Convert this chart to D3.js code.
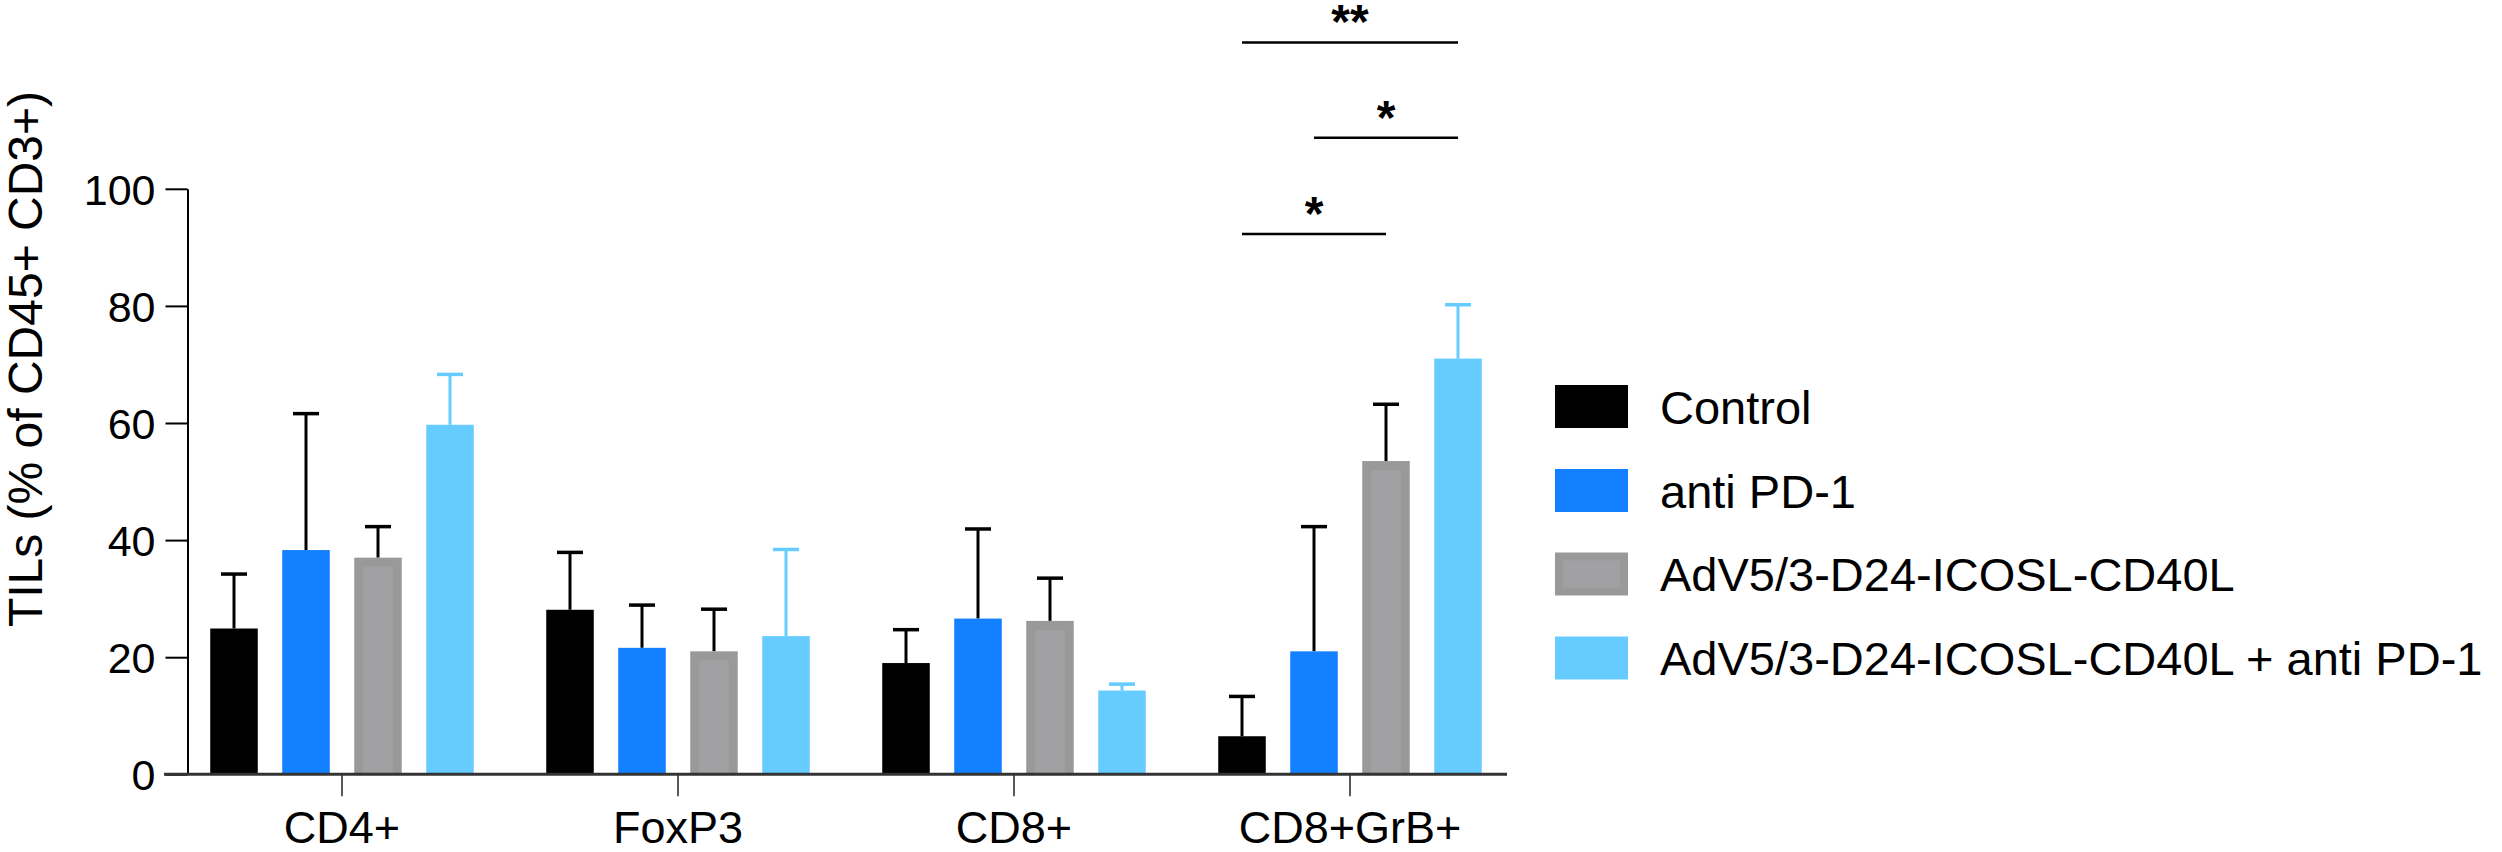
<!DOCTYPE html>
<html>
<head>
<meta charset="utf-8">
<script src="https://cdn.jsdelivr.net/npm/d3@7"></script>
<style>
  html, body { margin: 0; padding: 0; background: #ffffff; }
  svg { display: block; font-family: "Liberation Sans", Arial, Helvetica, sans-serif; }
</style>
</head>
<body>
<svg id="chart" width="2502" height="852"></svg>
<script>
// ---- data ----
const categories = ["CD4+", "FoxP3", "CD8+", "CD8+GrB+"];
const seriesNames = ["Control", "anti PD-1", "AdV5/3-D24-ICOSL-CD40L", "AdV5/3-D24-ICOSL-CD40L + anti PD-1"];
const controlMean = [24.9, 28.1, 19.0, 6.5];
const controlErr  = [9.3, 9.8, 5.7, 6.8];
const antiPD1Mean = [38.3, 21.6, 26.6, 21.0];
const antiPD1Err  = [23.3, 7.3, 15.3, 21.3];
const advMean     = [37.0, 21.0, 26.2, 53.5];
const advErr      = [5.3, 7.2, 7.3, 9.7];
const comboMean   = [59.7, 23.6, 14.3, 71.0];
const comboErr    = [8.6, 14.8, 1.1, 9.2];
const yTicks = [0, 20, 40, 60, 80, 100];
// significance brackets in CD8+GrB+ group: [from series index, to series index, label]
const sigFrom  = [0, 1, 0];
const sigTo    = [3, 3, 2];
const sigLabel = ["**", "*", "*"];
const sigLevel = [125.0, 108.7, 92.3]; // y-value (axis units) of bracket lines

const means = [controlMean, antiPD1Mean, advMean, comboMean];
const errs  = [controlErr, antiPD1Err, advErr, comboErr];
const fills = ["#000000", "#1380FF", "#999999", "#66CCFF"];
const innerFills = [null, null, "#A1A1A4", null];
const errColors = ["#000000", "#000000", "#000000", "#66CCFF"];

const svg = d3.select("#chart");

// ---- scales ----
const y = d3.scaleLinear().domain([0, 100]).range([774.3, 188.8]);
const x0 = d3.scaleBand().domain(categories).range([174, 1518]).paddingInner(0).paddingOuter(0);
const x1 = d3.scaleBand().domain(d3.range(seriesNames.length)).range([-144, 144]).paddingInner(0.34).paddingOuter(0.17);
const center = c => x0(c) + x0.bandwidth() / 2;

// ---- bars ----
const data = [];
categories.forEach((c, ci) => {
  seriesNames.forEach((s, si) => {
    data.push({ c, ci, si, v: means[si][ci], e: errs[si][ci] });
  });
});

const g = svg.append("g");

// error bars (drawn before bars so the stem starts at bar top)
const eb = g.selectAll("g.err").data(data).enter().append("g").attr("class", "err");
eb.append("line")
  .attr("x1", d => center(d.c) + x1(d.si) + x1.bandwidth() / 2)
  .attr("x2", d => center(d.c) + x1(d.si) + x1.bandwidth() / 2)
  .attr("y1", d => y(d.v))
  .attr("y2", d => y(d.v + d.e))
  .attr("stroke", d => errColors[d.si])
  .attr("stroke-width", 3);
eb.append("line")
  .attr("x1", d => center(d.c) + x1(d.si) + x1.bandwidth() / 2 - 13)
  .attr("x2", d => center(d.c) + x1(d.si) + x1.bandwidth() / 2 + 13)
  .attr("y1", d => y(d.v + d.e))
  .attr("y2", d => y(d.v + d.e))
  .attr("stroke", d => errColors[d.si])
  .attr("stroke-width", 3.5);

g.selectAll("rect.bar").data(data).enter().append("rect")
  .attr("class", "bar")
  .attr("x", d => center(d.c) + x1(d.si))
  .attr("y", d => y(d.v))
  .attr("width", x1.bandwidth())
  .attr("height", d => y(0) - y(d.v))
  .attr("fill", d => fills[d.si]);

const inset = 9;
g.selectAll("rect.inner").data(data.filter(d => innerFills[d.si])).enter().append("rect")
  .attr("class", "inner")
  .attr("x", d => center(d.c) + x1(d.si) + inset)
  .attr("y", d => y(d.v) + inset)
  .attr("width", x1.bandwidth() - 2 * inset)
  .attr("height", d => Math.max(0, y(0) - y(d.v) - inset))
  .attr("fill", d => innerFills[d.si]);

// ---- y axis ----
const yAxis = svg.append("g")
  .attr("transform", "translate(187.5,0)")
  .call(d3.axisLeft(y).tickValues(yTicks).tickSize(22).tickSizeOuter(0).tickPadding(10));
yAxis.select(".domain").attr("stroke", "#000").attr("stroke-width", 2);
yAxis.selectAll(".tick line").attr("stroke", "#000").attr("stroke-width", 2);
yAxis.selectAll(".tick text")
  .attr("font-size", 43).attr("fill", "#000")
  .attr("font-family", "'Liberation Sans', Arial, sans-serif")
  .attr("dy", "0.36em");

// ---- x axis ----
const xAxis = svg.append("g")
  .attr("transform", `translate(0,${y(0)})`)
  .call(d3.axisBottom(x0).tickSize(22).tickSizeOuter(0).tickPadding(15));
xAxis.select(".domain").remove();
xAxis.selectAll(".tick line").attr("stroke", "#222").attr("stroke-width", 1.5);
xAxis.selectAll(".tick text")
  .attr("font-size", 45).attr("fill", "#000")
  .attr("font-family", "'Liberation Sans', Arial, sans-serif")
  .attr("dy", "0.71em");
svg.append("line")
  .attr("x1", 164).attr("x2", 1507)
  .attr("y1", y(0)).attr("y2", y(0))
  .attr("stroke", "#333").attr("stroke-width", 3);

// ---- y axis title ----
svg.append("text")
  .attr("transform", `translate(42,${359}) rotate(-90)`)
  .attr("text-anchor", "middle")
  .attr("font-size", 48)
  .attr("fill", "#000")
  .text("TILs (% of CD45+ CD3+)");

// ---- significance brackets ----
const grb = categories[3];
const sig = sigLabel.map((l, i) => ({ l, a: sigFrom[i], b: sigTo[i], lv: sigLevel[i] }));
const sg = svg.append("g");
sg.selectAll("line.sig").data(sig).enter().append("line")
  .attr("x1", d => center(grb) + x1(d.a) + x1.bandwidth() / 2)
  .attr("x2", d => center(grb) + x1(d.b) + x1.bandwidth() / 2)
  .attr("y1", d => y(d.lv)).attr("y2", d => y(d.lv))
  .attr("stroke", "#000").attr("stroke-width", 2.5);
sg.selectAll("text.sig").data(sig).enter().append("text")
  .attr("x", d => center(grb) + (x1(d.a) + x1(d.b)) / 2 + x1.bandwidth() / 2)
  .attr("y", d => y(d.lv) - 4)
  .attr("text-anchor", "middle")
  .attr("font-size", 48)
  .attr("font-weight", "bold")
  .attr("fill", "#000")
  .text(d => d.l);

// ---- legend ----
const legTops = [385, 469, 552.5, 636.5];
const lg = svg.append("g");
const items = lg.selectAll("g.item").data(seriesNames).enter().append("g")
  .attr("transform", (d, i) => `translate(1555,${legTops[i]})`);
items.append("rect")
  .attr("width", 73).attr("height", 43)
  .attr("fill", (d, i) => fills[i]);
items.filter((d, i) => innerFills[i]).append("rect")
  .attr("x", 8).attr("y", 8).attr("width", 57).attr("height", 27)
  .attr("fill", (d) => innerFills[seriesNames.indexOf(d)]);
items.append("text")
  .attr("x", 105).attr("y", 21.5 + 17)
  .attr("font-size", 47)
  .attr("fill", "#000")
  .text(d => d);
</script>
</body>
</html>
